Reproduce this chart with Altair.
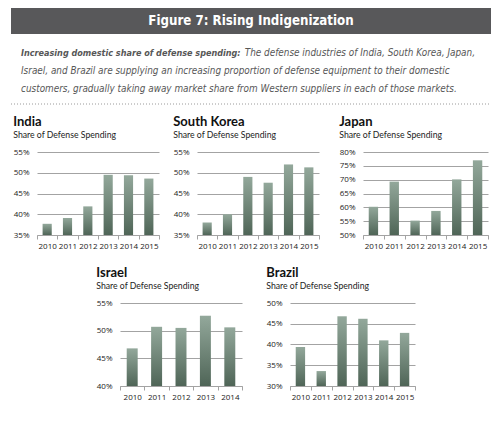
import altair as alt
import pandas as pd

years6 = ["2010", "2011", "2012", "2013", "2014", "2015"]
years5 = ["2010", "2011", "2012", "2013", "2014"]

india = [37.7, 39.1, 41.9, 49.5, 49.4, 48.6]
south_korea = [38.0, 40.0, 49.0, 47.6, 52.0, 51.3]
japan = [60.2, 69.3, 55.2, 58.7, 70.1, 77.0]
israel = [46.8, 50.7, 50.5, 52.7, 50.6]
brazil = [39.4, 33.6, 46.8, 46.2, 41.0, 42.8]

header_title = "Figure 7: Rising Indigenization"
intro_bold = "Increasing domestic share of defense spending:"
intro_line1 = "The defense industries of India, South Korea, Japan,"
intro_line2 = "Israel, and Brazil are supplying an increasing proportion of defense equipment to their domestic"
intro_line3 = "customers, gradually taking away market share from Western suppliers in each of those markets."
panel_subtitle = "Share of Defense Spending"

GRID = "#a3a3a3"
NARROW = "DejaVu Sans Condensed"
AXFONT = "Open Sans"

bar_fill = alt.LinearGradient(
    gradient="linear",
    stops=[alt.GradientStop(color="#4f6557", offset=0),
           alt.GradientStop(color="#93a89b", offset=1)],
    x1=1, x2=1, y1=1, y2=0,
)


def panel(name, years, vals, lo, hi, w, h=83):
    df = pd.DataFrame({"year": years, "share": [v / 100 for v in vals]})
    ticks = [t / 100 for t in range(lo, hi + 1, 5)]
    return alt.Chart(
        df,
        title=alt.TitleParams(name, subtitle=panel_subtitle, anchor="start"),
    ).mark_bar(color=bar_fill, width=alt.RelativeBandSize(0.45), clip=True).encode(
        x=alt.X("year:N", title=None,
                scale=alt.Scale(paddingInner=0, paddingOuter=0),
                axis=alt.Axis(labelAngle=0, tickBand="extent", grid=False,
                              domainColor=GRID, tickColor=GRID, tickSize=4,
                              labelPadding=3, labelOverlap=False)),
        y=alt.Y("share:Q", title=None,
                scale=alt.Scale(domain=[lo / 100, hi / 100], nice=False, zero=False),
                axis=alt.Axis(format=".0%", values=ticks, grid=True, gridColor=GRID,
                              domain=False, ticks=False, labelPadding=8)),
        y2=alt.datum(lo / 100),
    ).properties(width=w, height=h)


def spacer():
    return alt.Chart(pd.DataFrame({"k": [0]})).mark_text(text="").encode(
        x=alt.value(0), y=alt.value(0)).properties(width=1, height=1)


W = 483
header_base = alt.Chart(pd.DataFrame({"k": [0]}))
header_bar = header_base.mark_rect(color="#58585a").encode(
    x=alt.value(3), x2=alt.value(W), y=alt.value(0), y2=alt.value(26))
header_text = header_base.mark_text(
    color="white", font=NARROW, fontSize=13.2, fontWeight="bold",
    align="center", baseline="middle").encode(
    x=alt.value(243), y=alt.value(13), text=alt.value(header_title))
intro_style = dict(color="#575757", font=NARROW, fontStyle="italic", baseline="middle")
t_b = header_base.mark_text(fontWeight="bold", fontSize=9.0, align="left", **intro_style).encode(
    x=alt.value(13), y=alt.value(45), text=alt.value(intro_bold))
t_1 = header_base.mark_text(fontSize=9.9, align="right", **intro_style).encode(
    x=alt.value(467), y=alt.value(45), text=alt.value(intro_line1))
t_2 = header_base.mark_text(fontSize=9.9, align="left", **intro_style).encode(
    x=alt.value(13), y=alt.value(63), text=alt.value(intro_line2))
t_3 = header_base.mark_text(fontSize=9.9, align="left", **intro_style).encode(
    x=alt.value(13), y=alt.value(81), text=alt.value(intro_line3))
dots = header_base.mark_rule(color="#9a9a9a", strokeDash=[1, 2]).encode(
    x=alt.value(3), x2=alt.value(W), y=alt.value(96))
header = alt.layer(header_bar, header_text, t_b, t_1, t_2, t_3, dots).properties(
    width=W, height=100)

p_india = panel("India", years6, india, 35, 55, 122)
p_sk = panel("South Korea", years6, south_korea, 35, 55, 122)
p_japan = panel("Japan", years6, japan, 50, 80, 125)
p_israel = panel("Israel", years5, israel, 40, 55, 122)
p_brazil = panel("Brazil", years6, brazil, 30, 50, 125)

row1 = alt.hconcat(
    spacer(),
    alt.hconcat(alt.hconcat(p_india, p_sk, spacing=13), p_japan, spacing=19),
    spacing=4)
row2 = alt.hconcat(spacer(), alt.hconcat(p_israel, p_brazil, spacing=23), spacing=87)

chart = alt.vconcat(header, alt.vconcat(row1, row2, spacing=17), spacing=8).properties(
    padding=0
).configure_view(stroke=None).configure_axis(
    labelFont=AXFONT, labelFontSize=8, labelColor="#1a1a1a"
).configure_title(
    font="Lato", fontSize=13, fontWeight="bold", color="#111",
    subtitleFont="Lato", subtitleFontSize=8.7, subtitleColor="#222",
    subtitlePadding=2, offset=8, anchor="start"
)

chart.save("out.html", embed_options={"renderer": "svg", "actions": False})
